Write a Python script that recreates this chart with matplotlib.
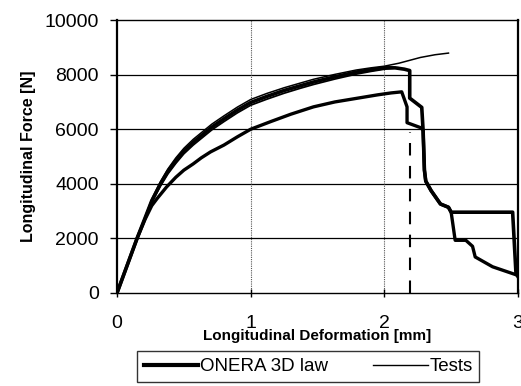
import matplotlib
matplotlib.use("Agg")
import matplotlib.pyplot as plt
from matplotlib.lines import Line2D

plt.rcParams['font.family'] = ['Liberation Sans', 'DejaVu Sans']

# ONERA 3D law (thick): rise, plateau, drop and stepped failure
onera_x = [0, 0.075, 0.15, 0.21, 0.26, 0.325, 0.38, 0.44, 0.50, 0.57, 0.64, 0.71, 0.80, 0.90,
           1.00, 1.12, 1.25, 1.37, 1.47, 1.63, 1.79, 1.90, 2.00, 2.08, 2.15, 2.19, 2.19, 2.28,
           2.29, 2.30, 2.31, 2.35, 2.42, 2.48, 2.50, 2.96, 2.985, 3.00]
onera_y = [0, 1000, 2000, 2750, 3380, 4000, 4450, 4850, 5200, 5520, 5800, 6080, 6380, 6700,
           6980, 7200, 7420, 7590, 7730, 7920, 8095, 8180, 8250, 8250, 8200, 8150, 7140, 6800,
           5970, 4500, 4100, 3750, 3260, 3140, 2960, 2960, 720, 600]

# Test 1 (lower curve)
test1_x = [0, 0.075, 0.15, 0.21, 0.26, 0.30, 0.37, 0.44, 0.50, 0.57, 0.63, 0.70, 0.80, 0.90,
           1.00, 1.15, 1.30, 1.47, 1.63, 1.79, 1.95, 2.05, 2.13, 2.17, 2.17, 2.27, 2.29, 2.30,
           2.31, 2.35, 2.42, 2.48, 2.50, 2.53, 2.61, 2.66, 2.68, 2.81, 2.99, 3.00]
test1_y = [0, 1000, 2000, 2700, 3200, 3460, 3880, 4240, 4500, 4730, 4950, 5170, 5420, 5720,
           6000, 6280, 6550, 6820, 7000, 7130, 7260, 7330, 7370, 6820, 6240, 6060, 5970, 4500,
           4100, 3750, 3260, 3140, 2960, 1930, 1930, 1710, 1320, 960, 660, 620]

# Test 2 (thin curve continuing upward)
test2_x = [0, 0.075, 0.15, 0.21, 0.26, 0.325, 0.38, 0.44, 0.50, 0.57, 0.64, 0.71, 0.80, 0.90,
           1.00, 1.12, 1.25, 1.37, 1.47, 1.63, 1.79, 1.90, 2.00, 2.11, 2.27, 2.38, 2.48]
test2_y = [0, 1020, 2040, 2800, 3440, 4080, 4540, 4950, 5300, 5630, 5910, 6190, 6490, 6810,
           7090, 7310, 7520, 7690, 7830, 8010, 8170, 8250, 8310, 8420, 8630, 8730, 8790]

# Test 3 (thin curve inside the upper bundle)
test3_x = [0, 0.075, 0.15, 0.21, 0.26, 0.325, 0.38, 0.44, 0.50, 0.57, 0.64, 0.71, 0.80, 0.90,
           1.00, 1.12, 1.25, 1.37, 1.47, 1.63, 1.79, 1.90, 2.00, 2.10]
test3_y = [0, 980, 1960, 2700, 3320, 3920, 4360, 4750, 5100, 5420, 5700, 5980, 6280, 6600,
           6880, 7100, 7320, 7500, 7640, 7840, 8020, 8120, 8200, 8250]

# Dashed vertical drop
drop_x = [2.19, 2.19]
drop_y = [0, 5900]

xticks = [0, 1, 2, 3]
yticks = [0, 2000, 4000, 6000, 8000, 10000]

fig = plt.figure(figsize=(5.21, 3.86), dpi=100)
ax = fig.add_axes([0.2246, 0.241, 0.7696, 0.707])

ax.set_xlim(0, 3)
ax.set_ylim(0, 10000)

for yv in yticks[1:-1]:
    ax.axhline(yv, color='black', lw=0.9, zorder=1)
for xv in xticks[1:-1]:
    ax.axvline(xv, color='#555555', lw=0.8, ls=(0, (1, 1)), zorder=1)

ax.plot(test2_x, test2_y, color='black', lw=1.1, zorder=3)
ax.plot(test3_x, test3_y, color='black', lw=1.3, zorder=3)
ax.plot(test1_x, test1_y, color='black', lw=2.4, zorder=3, solid_joinstyle='round')
ax.plot(onera_x, onera_y, color='black', lw=2.6, zorder=4, solid_joinstyle='round')
ax.plot(drop_x, drop_y, color='black', lw=1.5, ls=(0, (6, 5)), zorder=3)

ax.set_xticks(xticks)
ax.set_yticks(yticks)
ax.set_xticklabels([str(v) for v in xticks])
ax.set_yticklabels([str(v) for v in yticks])
ax.tick_params(axis='y', direction='out', length=5, width=1, pad=8, labelsize=14)
ax.tick_params(axis='x', direction='inout', length=6, width=1, pad=13, labelsize=14)

for s in ax.spines.values():
    s.set_color('black')
    s.set_linewidth(1.0)
ax.spines['left'].set_linewidth(1.6)
ax.spines['right'].set_linewidth(1.6)

ax.set_xlabel('Longitudinal Deformation [mm]', fontsize=11, fontweight='bold', labelpad=-2)
ax.set_ylabel('Longitudinal Force [N]', fontsize=11.5, fontweight='bold', labelpad=6)

handles = [Line2D([], [], color='black', lw=3.0), Line2D([], [], color='black', lw=1.0)]
leg = fig.legend(handles, ['ONERA 3D law', 'Tests'], loc='center', bbox_to_anchor=(0.592, 0.0505),
                 ncol=2, frameon=True, fancybox=False, edgecolor='black', fontsize=13.5,
                 handlelength=2.9, handletextpad=0.1, columnspacing=2.4, borderpad=0.35,
                 borderaxespad=0)
leg.get_frame().set_linewidth(1.0)

fig.savefig('out.png', dpi=100)
